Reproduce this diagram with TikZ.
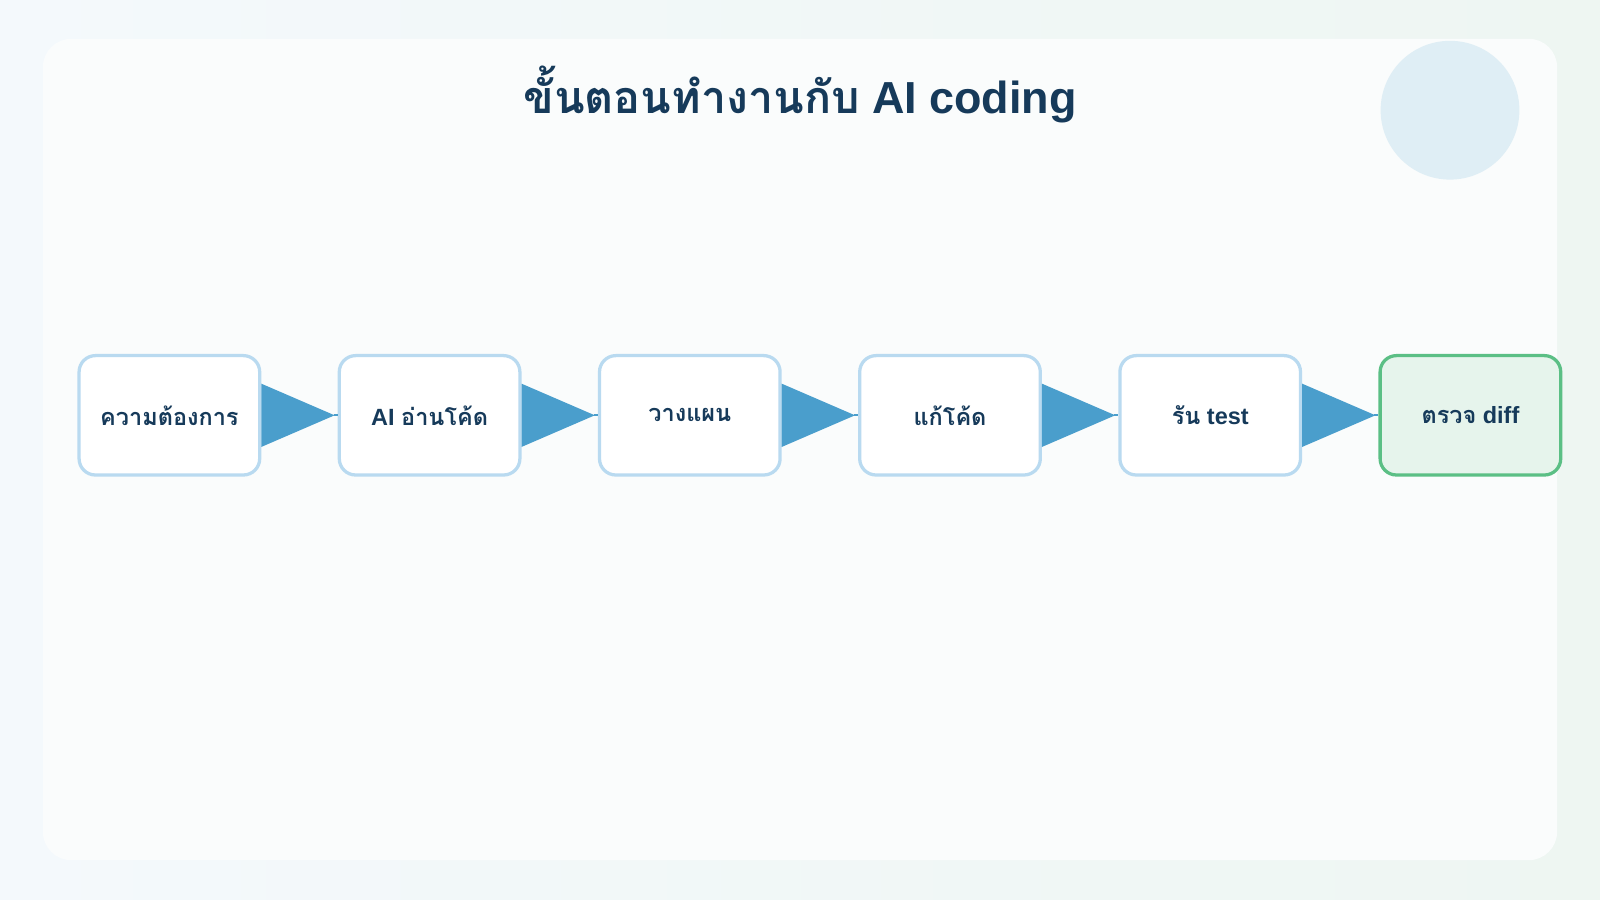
\documentclass[tikz,border=0pt]{standalone}
\usepackage{fontspec}
\setmainfont{Liberation Sans}
\newfontfamily\thai[Script=Thai]{Loma}
\definecolor{bgA}{HTML}{F4F9FC}
\definecolor{bgB}{HTML}{EEF6F2}
\definecolor{card}{HTML}{FAFCFC}
\definecolor{circ}{HTML}{DFEEF5}
\definecolor{titlec}{HTML}{163A5A}
\definecolor{bedge}{HTML}{B9DAF0}
\definecolor{gedge}{HTML}{5BBF85}
\definecolor{gfill}{HTML}{E6F4EC}
\definecolor{arr}{HTML}{4A9ECC}
\begin{document}
\begin{tikzpicture}[x=0.5pt,y=-0.5pt,
  stepbox/.style={draw=bedge,line width=1.6pt,fill=white,rounded corners=8pt,minimum width=88.5pt,minimum height=58.5pt,inner sep=0pt,font=\bfseries\fontsize{11.5}{13}\selectfont,text=titlec},
  finalbox/.style={stepbox,draw=gedge,fill=gfill},
  flow/.style={draw=arr,line width=0.8pt}]
\useasboundingbox (0,0) rectangle (1568,882);
\shade[left color=bgA,right color=bgB] (0,0) rectangle (1568,882);
\fill[card,rounded corners=14pt] (42,38) rectangle (1526,843);
\fill[circ] (1421,108) circle (68);
\node[font=\bfseries\fontsize{22}{26}\selectfont,text=titlec] (title) at (784,93) {{\thai ขั้นตอนทำงานกับ} AI coding};
\node[stepbox] (s1) at (166,407) {\thai ความต้องการ};
\node[stepbox] (s2) at (421,407) {AI {\thai อ่านโค้ด}};
\node[stepbox] (s3) at (676,407) {\thai วางแผน};
\node[stepbox] (s4) at (931,407) {\thai แก้โค้ด};
\node[stepbox] (s5) at (1186,407) {{\thai รัน} test};
\node[finalbox] (s6) at (1441,407) {{\thai ตรวจ} diff};
\foreach \a/\b in {s1/s2,s2/s3,s3/s4,s4/s5,s5/s6}{
  \fill[arr] ([yshift=15.5pt]\a.east) -- ([xshift=-1.5pt]\b.west) -- ([yshift=-15.5pt]\a.east) -- cycle;
  \draw[flow] ([xshift=-2pt]\b.west) -- (\b.west);
}
\end{tikzpicture}
\end{document}
